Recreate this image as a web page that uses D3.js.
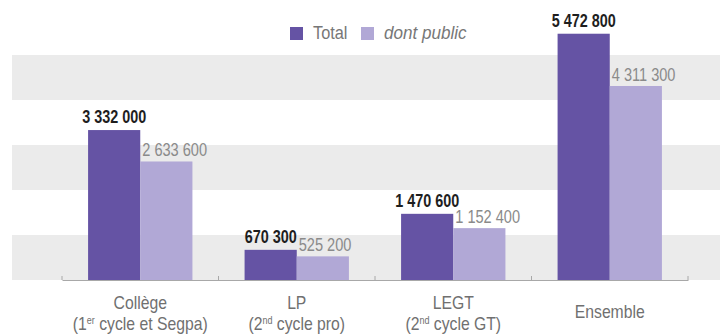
<!DOCTYPE html>
<html>
<head>
<meta charset="utf-8">
<script src="https://cdn.jsdelivr.net/npm/d3@7"></script>
<style>
  html, body { margin: 0; padding: 0; background: #fff; }
  svg { display: block; }
  text { font-family: "Liberation Sans", Arial, sans-serif; }
</style>
</head>
<body>
<svg id="chart" width="720" height="336"></svg>
<script>
// Categories: first line, ordinal, superscript, rest of second line
const categories = ["Collège", "LP", "LEGT", "Ensemble"];
const subOpen = ["(1", "(2", "(2", ""];
const subSup = ["er", "nd", "nd", ""];
const subRest = [" cycle et Segpa)", " cycle pro)", " cycle GT)", ""];

// Pupils: total and of which public sector
const totalValues = [3332000, 670300, 1470600, 5472800];
const publicValues = [2633600, 525200, 1152400, 4311300];

const seriesKeys = ["total", "public"];
const seriesLabels = ["Total", "dont public"];
const seriesColors = ["#6553a4", "#b1a8d6"];

const fmt = v => d3.format(",")(v).replace(/,/g, " ");

const svg = d3.select("#chart");

const y = d3.scaleLinear().domain([0, 5000000]).range([280, 55]);
const x0 = d3.scaleBand().domain(categories).range([62, 688]).padding(0);
const x1 = d3.scaleBand().domain(seriesKeys).range([0, x0.bandwidth()])
  .paddingInner(0).paddingOuter(0.5);
const color = d3.scaleOrdinal().domain(seriesKeys).range(seriesColors);

// Text placed at (x, y) and squeezed horizontally to a condensed face
function narrowText(parent, x, yPos, sx = 0.8) {
  return parent.append("g")
    .attr("transform", `translate(${x},${yPos}) scale(${sx},1)`)
    .append("text");
}

// Alternating background stripes, one per million
const ticks = y.ticks(5);
const stripes = d3.pairs(ticks).filter((_, i) => i % 2 === 0);
svg.append("g").selectAll("rect").data(stripes).join("rect")
  .attr("x", 12).attr("width", 708)
  .attr("y", d => y(d[1])).attr("height", d => y(d[0]) - y(d[1]))
  .attr("fill", "#ebebeb");

// Bars
const rows = categories.map((c, i) => ({
  cat: c,
  vals: [{ key: "total", v: totalValues[i] }, { key: "public", v: publicValues[i] }]
}));

const groups = svg.append("g").selectAll("g").data(rows).join("g")
  .attr("transform", d => `translate(${x0(d.cat)},0)`);

groups.selectAll("rect").data(d => d.vals).join("rect")
  .attr("x", d => x1(d.key)).attr("width", x1.bandwidth())
  .attr("y", d => y(d.v)).attr("height", d => y(0) - y(d.v))
  .attr("fill", d => color(d.key));

// Value labels
groups.each(function (d) {
  const g = d3.select(this);
  narrowText(g, x1("total") + x1.bandwidth() / 2, y(d.vals[0].v) - 7)
    .attr("text-anchor", "middle")
    .attr("font-size", 18).attr("font-weight", "bold").attr("fill", "#1e1e1e")
    .text(fmt(d.vals[0].v));
  narrowText(g, x1("public") + 2, y(d.vals[1].v) - 5, 0.81)
    .attr("font-size", 18).attr("fill", "#8a8a8a")
    .text(fmt(d.vals[1].v));
});

// Category axis
const axis = svg.append("g").attr("transform", `translate(0,${y(0)})`)
  .call(d3.axisBottom(x0).tickSize(0).tickFormat(""));
axis.select(".domain").attr("stroke", "#a8a8a8").attr("stroke-width", 1);
axis.selectAll(".tick").remove();
const edges = categories.map(c => x0(c)).concat([x0.range()[1]]);
axis.selectAll("line.edge").data(edges).join("line").attr("class", "edge")
  .attr("x1", d => d).attr("x2", d => d).attr("y1", 0).attr("y2", -4)
  .attr("stroke", "#a8a8a8");

const labelLayer = svg.append("g");
const catSize = 17.5, catSx = 0.9, catColor = "#707070";
categories.forEach((c, i) => {
  const cx = x0(c) + x0.bandwidth() / 2;
  if (subOpen[i]) {
    narrowText(labelLayer, cx, 309, catSx)
      .attr("text-anchor", "middle").attr("font-size", catSize).attr("fill", catColor)
      .text(c);
    const t = narrowText(labelLayer, cx, 329.5, catSx)
      .attr("text-anchor", "middle").attr("font-size", catSize).attr("fill", catColor);
    t.append("tspan").text(subOpen[i]);
    t.append("tspan").attr("font-size", 10).attr("dy", -6).text(subSup[i]);
    t.append("tspan").attr("dy", 6).text(subRest[i]);
  } else {
    narrowText(labelLayer, cx, 318, catSx)
      .attr("text-anchor", "middle").attr("font-size", catSize).attr("fill", catColor)
      .text(c);
  }
});

// Legend
const legend = svg.append("g");
const legX = [290, 361];
seriesKeys.forEach((k, i) => {
  legend.append("rect").attr("x", legX[i]).attr("y", 27).attr("width", 13).attr("height", 13)
    .attr("fill", color(k));
  narrowText(legend, legX[i] + 23, 39, i === 1 ? 0.9 : 0.86)
    .attr("font-size", 19).attr("fill", "#777")
    .attr("font-style", i === 1 ? "italic" : "normal")
    .text(seriesLabels[i]);
});
</script>
</body>
</html>
